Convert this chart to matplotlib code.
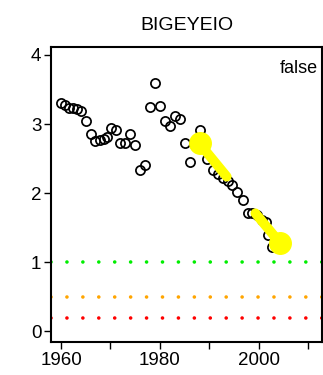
import numpy as np, matplotlib
matplotlib.use("Agg")
import matplotlib.pyplot as plt

plt.rcParams["font.family"] = ["Liberation Sans", "DejaVu Sans"]

# stock index series (B/Bmsy style)
year = [1959.9, 1960.8, 1961.7, 1962.5, 1963.3, 1964.1, 1965.1, 1966.0, 1966.9,
        1967.8, 1968.6, 1969.3, 1970.1, 1971.1, 1971.9, 1972.9, 1974.0, 1975.0,
        1975.9, 1977.0, 1978.0, 1979.0, 1980.0, 1981.1, 1982.1, 1983.1, 1984.1,
        1985.0, 1986.0, 1987.0, 1988.0, 1989.5, 1990.8, 1991.8, 1992.8, 1993.8,
        1994.5, 1995.5, 1996.7, 1997.9, 1998.6, 1999.6, 2000.6, 2001.5, 2001.8,
        2002.6, 2003.6]
index = [3.30, 3.27, 3.24, 3.23, 3.22, 3.19, 3.05, 2.85, 2.76,
         2.77, 2.79, 2.81, 2.94, 2.91, 2.72, 2.72, 2.85, 2.70,
         2.34, 2.41, 3.25, 3.60, 3.26, 3.04, 2.97, 3.12, 3.07,
         2.73, 2.45, 2.70, 2.91, 2.50, 2.33, 2.28, 2.22, 2.17,
         2.12, 2.02, 1.90, 1.72, 1.71, 1.68, 1.62, 1.58, 1.40,
         1.22, 1.25]

# fitted trend segments: (x0, x1), (y0, y1), end that gets the big dot
trend_x = [(1988.0, 1993.5), (1999.3, 2004.3)]
trend_y = [(2.72, 2.24), (1.71, 1.28)]
trend_dot = [0, 1]

# reference levels
ref_levels = [1.0, 0.5, 0.2]
ref_colors = ["#00ee00", "#ffa500", "#ff0000"]

fig = plt.figure(figsize=(3.23, 3.75), dpi=100)
ax = fig.add_axes([0.158, 0.088, 0.839, 0.7875])

for lvl, c in zip(ref_levels, ref_colors):
    ax.axhline(lvl, color=c, lw=2.6, ls=(0, (0.01, 4.4)),
               dash_capstyle="round", zorder=1)

ax.plot(year, index, "o", ms=6.6, mfc="none", mec="black", mew=1.25, zorder=2)

for (x0, x1), (y0, y1), k in zip(trend_x, trend_y, trend_dot):
    ax.plot([x0, x1], [y0, y1], color="#ffff00", lw=7.0,
            solid_capstyle="round", zorder=3)
    ax.plot([x0, x1][k], [y0, y1][k], "o", color="#ffff00", ms=15.5, zorder=3)

ax.set_xlim(1957.98, 2012.77)
ax.set_ylim(-0.152, 4.12)
ax.set_xticks([1960, 1970, 1980, 1990, 2000, 2010])
ax.set_xticklabels(["1960", "", "1980", "", "2000", ""])
ax.set_yticks([0, 1, 2, 3, 4])
ax.tick_params(direction="out", length=5, width=1.0, labelsize=13.5,
               pad=2, colors="black")
for s in ax.spines.values():
    s.set_linewidth(1.5)

ax.text(0.985, 0.955, "false", transform=ax.transAxes, ha="right", va="top",
        fontsize=13)
ax.set_title("BIGEYEIO", fontsize=14, pad=12)

fig.savefig("out.png", dpi=100)
